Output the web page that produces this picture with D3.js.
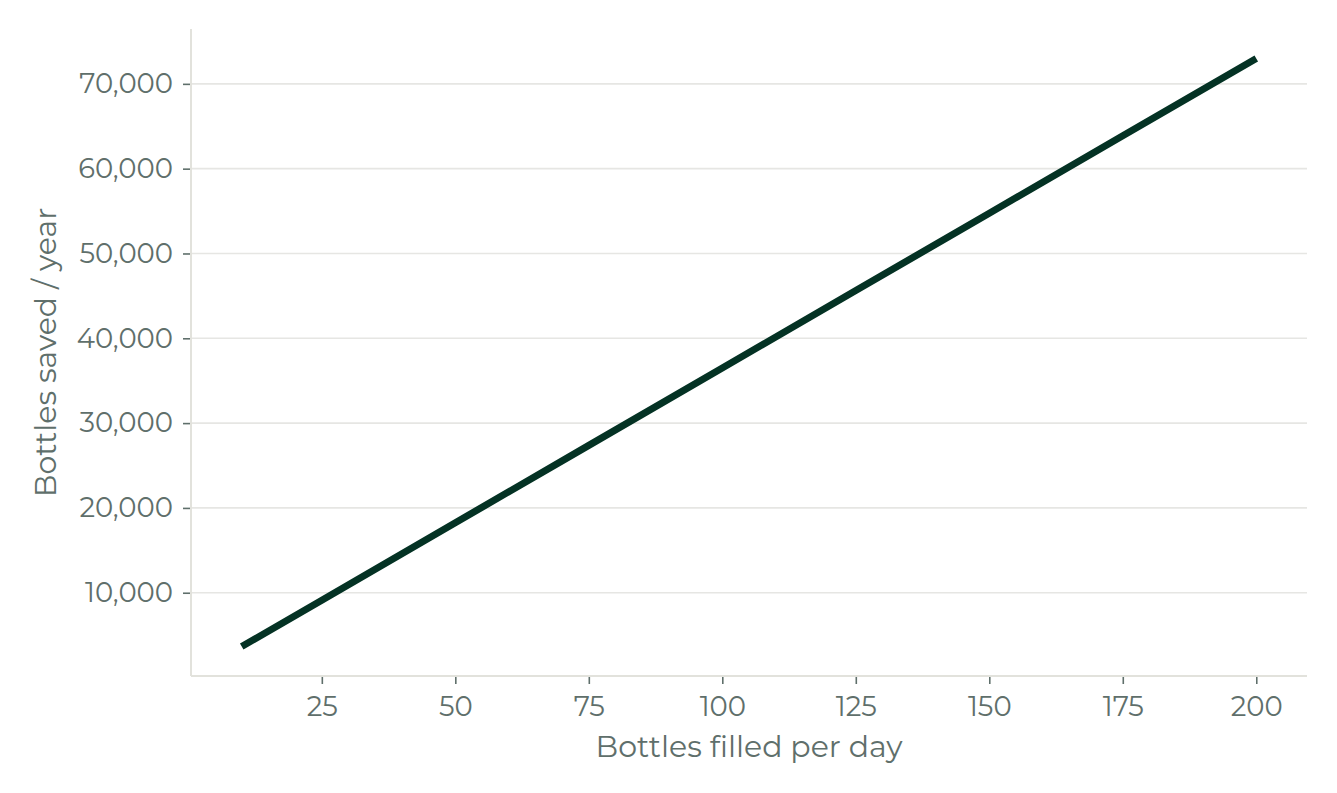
<!DOCTYPE html>
<html><head><meta charset="utf-8">
<script src="https://cdn.jsdelivr.net/npm/d3@7"></script>
<style>
body{margin:0;background:#fff;}
text{font-family:"Montserrat","Noto Sans",sans-serif;}
</style></head><body>
<svg id="c" width="1337" height="793"></svg>
<script>
const bottlesPerDay = [10, 25, 50, 75, 100, 125, 150, 175, 200];
const bottlesSaved = [3650, 9125, 18250, 27375, 36500, 45625, 54750, 63875, 73000];
const xTicks = [25, 50, 75, 100, 125, 150, 175, 200];
const yTicks = [10000, 20000, 30000, 40000, 50000, 60000, 70000];
const xLabel = "Bottles filled per day";
const yLabel = "Bottles saved / year";

const svg = d3.select("#c");
const m = {l:191, r:1307, t:29, b:676};
const xmin = d3.min(bottlesPerDay), xmax = d3.max(bottlesPerDay);
const ymin = d3.min(bottlesSaved), ymax = d3.max(bottlesSaved);
const xpad = (xmax-xmin)*0.05, ypad = (ymax-ymin)*0.05;
const x = d3.scaleLinear().domain([xmin-xpad, xmax+xpad]).range([m.l, m.r]);
const y = d3.scaleLinear().domain([ymin-ypad, ymax+ypad]).range([m.b, m.t]);

const textCol = "#5f6f6b", spineCol = "#e2e2dc", gridCol = "#e6e6e3", tickCol = "#5f6f6b";

// grid
svg.append("g").selectAll("line").data(yTicks).join("line")
  .attr("x1", m.l).attr("x2", m.r).attr("y1", d=>y(d)).attr("y2", d=>y(d))
  .attr("stroke", gridCol).attr("stroke-width", 1.6);

// y axis
const ya = svg.append("g").attr("transform", `translate(${m.l},0)`)
  .call(d3.axisLeft(y).tickValues(yTicks).tickFormat(d3.format(",")).tickSize(8).tickPadding(10));
ya.select(".domain").remove();
ya.selectAll(".tick line").attr("stroke", tickCol).attr("stroke-width", 1.6);
ya.selectAll(".tick text").attr("fill", textCol).attr("font-size", 27.5).attr("font-family", "Montserrat, 'Noto Sans', sans-serif");

// x axis
const xa = svg.append("g").attr("transform", `translate(0,${m.b})`)
  .call(d3.axisBottom(x).tickValues(xTicks).tickSize(8).tickPadding(12));
xa.select(".domain").remove();
xa.selectAll(".tick line").attr("stroke", tickCol).attr("stroke-width", 1.6);
xa.selectAll(".tick text").attr("fill", textCol).attr("font-size", 27.5).attr("font-family", "Montserrat, 'Noto Sans', sans-serif");

// spines
svg.append("line").attr("x1", m.l).attr("x2", m.l).attr("y1", m.t).attr("y2", m.b)
  .attr("stroke", spineCol).attr("stroke-width", 2);
svg.append("line").attr("x1", m.l).attr("x2", m.r).attr("y1", m.b).attr("y2", m.b)
  .attr("stroke", spineCol).attr("stroke-width", 2);

// line
const data = bottlesPerDay.map((d,i)=>[d, bottlesSaved[i]]);
svg.append("path").datum(data)
  .attr("fill", "none").attr("stroke", "#043224").attr("stroke-width", 7)
  .attr("d", d3.line().x(d=>x(d[0])).y(d=>y(d[1])));

// labels
svg.append("text").attr("x", (m.l+m.r)/2).attr("y", 757).attr("text-anchor","middle")
  .attr("fill", textCol).attr("font-size", 30).text(xLabel);
svg.append("text").attr("transform", `translate(56,${(m.t+m.b)/2}) rotate(-90)`).attr("text-anchor","middle")
  .attr("fill", textCol).attr("font-size", 30).text(yLabel);
</script>
</body></html>
